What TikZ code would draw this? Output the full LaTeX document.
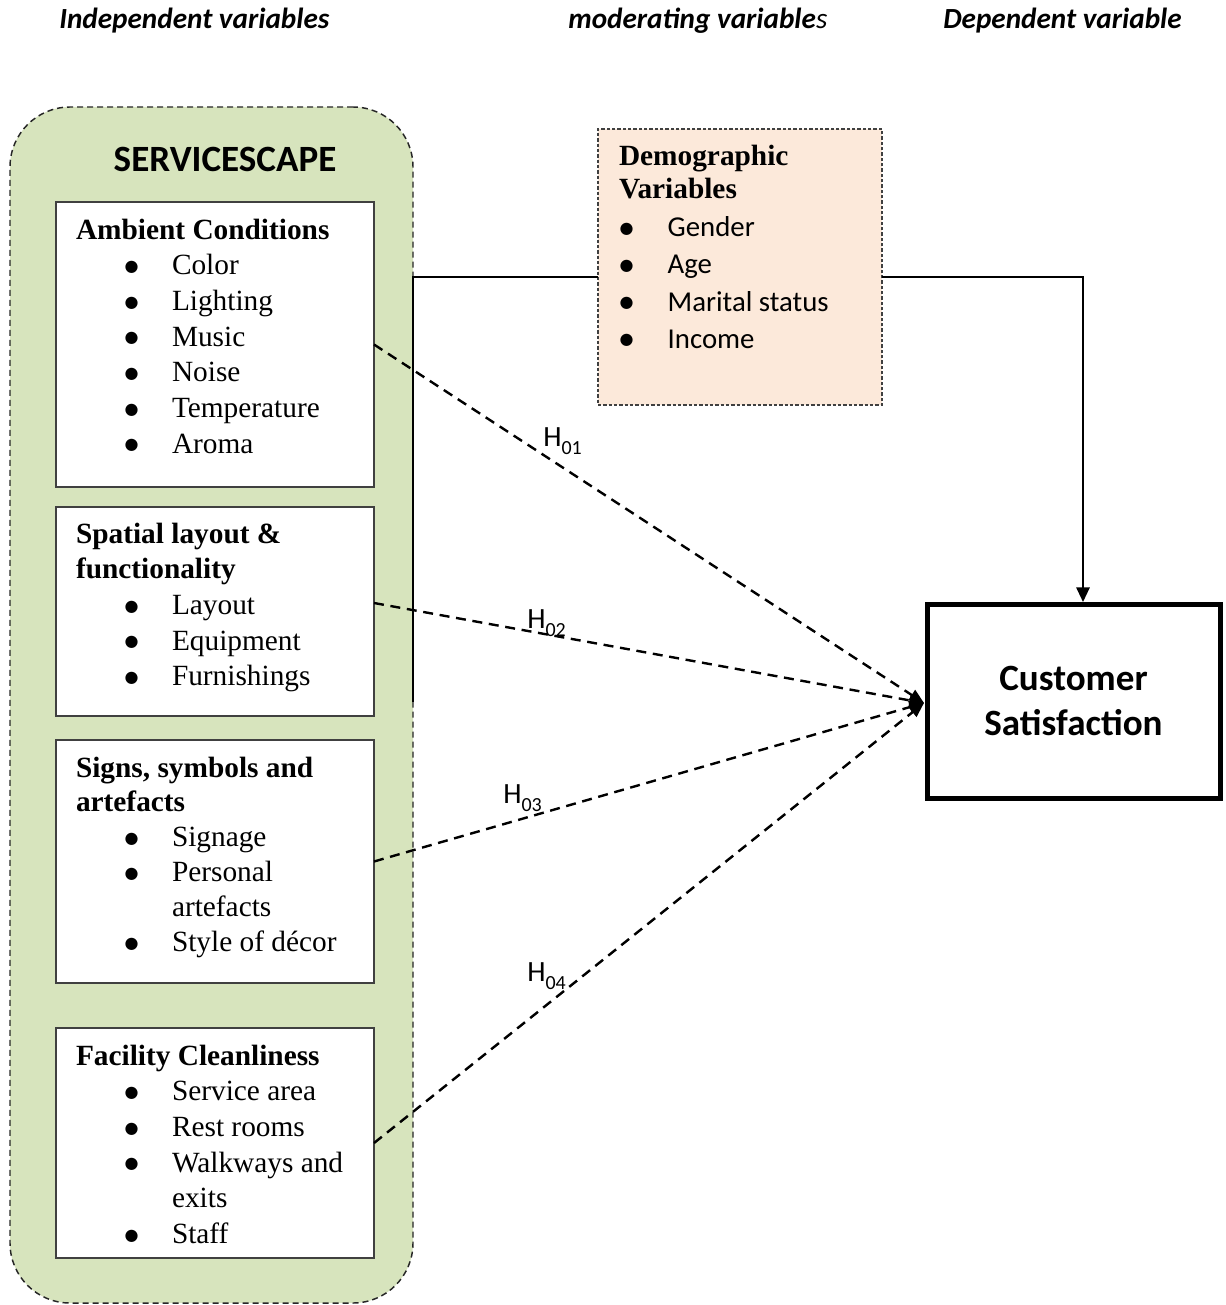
\documentclass[tikz,border=0pt]{standalone}
\usepackage{fontspec}
\setmainfont{Liberation Serif}
\newfontfamily\carl{Carlito}
\newfontfamily\dejavu{DejaVu Sans}
\usetikzlibrary{arrows.meta}
\definecolor{grpgreen}{HTML}{D7E4BD}
\definecolor{peach}{HTML}{FCE9DA}
\newcommand\bigbul{\raisebox{2.6pt}{\dejavu\fontsize{12}{12}\selectfont ●}}
\newcommand\bulA{\makebox[72pt][l]{\hspace{36.5pt}\bigbul}}
\newcommand\bulD{\makebox[36.5pt][l]{\hspace{0.5pt}\bigbul}}
\newcommand\hsub[1]{H\raisebox{-0.28em}{\fontsize{15}{15}\selectfont #1}}
\begin{document}
\begin{tikzpicture}[x=0.75pt,y=-0.75pt,
  grp/.style={draw=black!85, fill=grpgreen, line width=1.1pt, dash pattern=on 4.5pt off 3pt, rounded corners=45pt, inner sep=0, outer sep=0},
  itembox/.style={draw=black!75, fill=white, line width=1.1pt, inner sep=0, outer sep=0, anchor=north west},
  demobox/.style={draw=black!75, fill=peach, line width=0.8pt, dash pattern=on 2.5pt off 1.5pt, inner sep=0, outer sep=0, anchor=north west},
  csbox/.style={draw=black, fill=white, line width=3.75pt, inner sep=0, outer sep=0, anchor=north west, align=center, font=\carl\bfseries\fontsize{27.8}{33.75}\selectfont},
  txt/.style={anchor=base west, inner sep=0, outer sep=0, font=\fontsize{22}{26.8}\selectfont},
  hdr/.style={anchor=base west, inner sep=0, font=\carl\bfseries\itshape\fontsize{21.9}{26}\selectfont},
  hlab/.style={anchor=base west, inner sep=0, font=\carl\fontsize{22}{26}\selectfont},
  hyp/.style={line width=1.8pt, dash pattern=on 7.5pt off 5pt, -{Triangle[length=11pt,width=9pt]}},
  modline/.style={line width=1.2pt},
  modarrow/.style={line width=1.5pt, -{Triangle[length=11pt,width=10pt]}}
]
\useasboundingbox (0,0) rectangle (1226,1305);

% headers
\node[hdr] (h1) at (59,29) {Independent variables};
\node[hdr] (h2) at (568,29) {moderating variable\textmd{s}};
\node[hdr] (h3) at (943,29) {Dependent variable};

% servicescape group
\node[grp, anchor=north west, minimum width=403*0.75pt, minimum height=1196*0.75pt] (grp) at (10,107) {};
\node[inner sep=0, font=\carl\bfseries\fontsize{27.8}{30}\selectfont] (sst) at (225,159) {SERVICESCAPE};

% boxes
\node[itembox, minimum width=318*0.75pt, minimum height=285*0.75pt] (amb) at (56,202) {};
\node[itembox, minimum width=318*0.75pt, minimum height=209*0.75pt] (spa) at (56,507) {};
\node[itembox, minimum width=318*0.75pt, minimum height=243*0.75pt] (sig) at (56,740) {};
\node[itembox, minimum width=318*0.75pt, minimum height=230*0.75pt] (fac) at (56,1028) {};

\node[txt] (ambt) at (76,239) {\begin{tabular}[t]{@{}l@{}l@{}}
\multicolumn{2}{@{}l@{}}{\textbf{Ambient Conditions}}\\
\bulA & Color\\
\bulA & Lighting\\
\bulA & Music\\
\bulA & Noise\\
\bulA & Temperature\\
\bulA & Aroma
\end{tabular}};

\node[txt] (spat) at (76,543) {\begin{tabular}[t]{@{}l@{}l@{}}
\multicolumn{2}{@{}l@{}}{\textbf{Spatial layout \&}}\\
\multicolumn{2}{@{}l@{}}{\textbf{functionality}}\\
\bulA & Layout\\
\bulA & Equipment\\
\bulA & Furnishings
\end{tabular}};

\node[txt, font=\fontsize{22}{26.2}\selectfont] (sigt) at (76,777) {\begin{tabular}[t]{@{}l@{}l@{}}
\multicolumn{2}{@{}l@{}}{\textbf{Signs, symbols and}}\\
\multicolumn{2}{@{}l@{}}{\textbf{artefacts}}\\
\bulA & Signage\\
\bulA & Personal\\
 & artefacts\\
\bulA & Style of décor
\end{tabular}};

\node[txt] (fact) at (76,1065) {\begin{tabular}[t]{@{}l@{}l@{}}
\multicolumn{2}{@{}l@{}}{\textbf{Facility Cleanliness}}\\
\bulA & Service area\\
\bulA & Rest rooms\\
\bulA & Walkways and\\
 & exits\\
\bulA & Staff
\end{tabular}};

% demographic box
\node[demobox, minimum width=284*0.75pt, minimum height=276*0.75pt] (demo) at (598,129) {};
\node[txt, font=\fontsize{22}{24.75}\selectfont] (demot) at (619,166) {\begin{tabular}[t]{@{}l@{}l@{}}
\multicolumn{2}{@{}l@{}}{\textbf{Demographic}}\\
\multicolumn{2}{@{}l@{}}{\textbf{Variables}}\\[3.5pt]
\bulD & {\carl\fontsize{21.6}{26}\selectfont Gender}\\[3.2pt]
\bulD & {\carl\fontsize{21.6}{26}\selectfont Age}\\[3.2pt]
\bulD & {\carl\fontsize{21.6}{26}\selectfont Marital status}\\[3.2pt]
\bulD & {\carl\fontsize{21.6}{26}\selectfont Income}
\end{tabular}};

% customer satisfaction
\node[csbox, minimum width=293*0.75pt, minimum height=194*0.75pt] (cs) at (927,604) {Customer\\Satisfaction};

% moderation connectors
\coordinate (mbot) at (413,702);
\coordinate (mtop) at (413,277);
\coordinate (dl) at (598,277);
\coordinate (dr) at (882,277);
\coordinate (rc) at (1083,277);
\coordinate (rt) at (1083,602);
\draw[modline] (mbot) -- (mtop) -- (dl);
\draw[modarrow] (dr) -- (rc) -- (rt);

% hypotheses
\coordinate (tip) at (924,703);
\draw[hyp] (amb.east) -- (tip);
\draw[hyp] (374,603) -- (tip);
\draw[hyp] (sig.east) -- (tip);
\draw[hyp] (fac.east) -- (tip);

\node[hlab] (l1) at (543,446) {\hsub{01}};
\node[hlab] (l2) at (527,628) {\hsub{02}};
\node[hlab] (l3) at (503,803) {\hsub{03}};
\node[hlab] (l4) at (527,981) {\hsub{04}};
\end{tikzpicture}
\end{document}
